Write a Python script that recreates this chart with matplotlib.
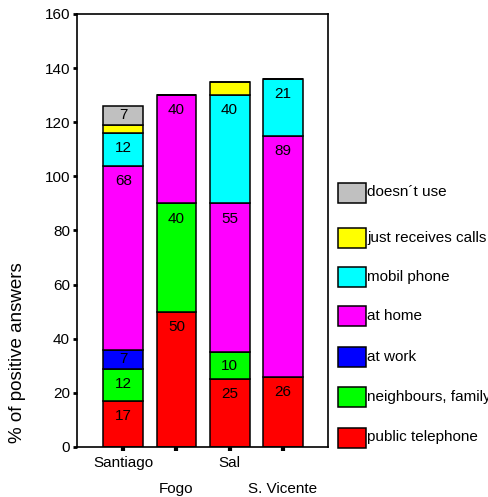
import matplotlib
matplotlib.use("Agg")
import matplotlib.pyplot as plt
from matplotlib.patches import Rectangle
import numpy as np

plt.rcParams['font.family'] = ['Liberation Sans', 'DejaVu Sans']

islands = ["Santiago", "Fogo", "Sal", "S. Vicente"]
categories = ["public telephone", "neighbours, family", "at work", "at home",
              "mobil phone", "just receives calls", "doesn\u00b4t use"]
colors = ["#ff0000", "#00ff00", "#0000ff", "#ff00ff", "#00ffff", "#ffff00", "#c0c0c0"]
values = {
    "public telephone":    [17, 50, 25, 26],
    "neighbours, family":  [12, 40, 10, 0],
    "at work":             [7, 0, 0, 0],
    "at home":             [68, 40, 55, 89],
    "mobil phone":         [12, 0, 40, 21],
    "just receives calls": [3, 0, 5, 0],
    "doesn\u00b4t use":    [7, 0, 0, 0],
}
labelled = {"just receives calls": False}

W, H = 488, 497
fig = plt.figure(figsize=(W/100, H/100), dpi=100)
ax = fig.add_axes([77/W, 1-447/H, (328-77)/W, (447-14)/H])

x = np.arange(len(islands))
bottom = np.zeros(len(islands))
for cat, col in zip(categories, colors):
    v = np.array(values[cat], dtype=float)
    ax.bar(x, v, bottom=bottom, width=0.75, color=col, edgecolor='black', linewidth=1.1)
    if labelled.get(cat, True):
        for xi, vi, bi in zip(x, v, bottom):
            if vi > 0:
                ax.text(xi, bi + vi - min(vi / 2, 5.6), f"{vi:g}", ha='center', va='center',
                        fontsize=11)
    bottom += v

ax.set_xlim(-0.87, 3.85)
ax.set_ylim(0, 160)
ax.set_yticks(np.arange(0, 161, 20))
ax.tick_params(axis='y', labelsize=11, length=3, width=2, direction='out', pad=2)
ax.set_xticks(x)
ax.set_xticklabels([])
ax.tick_params(axis='x', length=3, width=3, direction='out')
for xi, name in zip(x, islands):
    off = 16 if xi % 2 == 0 else 42
    ax.annotate(name, xy=(xi, 0), xycoords='data', xytext=(0, -off), textcoords='offset pixels',
                ha='center', va='center', fontsize=11)
for s in ax.spines.values():
    s.set_linewidth(1.2)
fig.text(18/W, 1-353/H, "% of positive answers", rotation=90, ha='center', va='center',
         fontsize=13.5)

# legend
leg_centers = [192.5, 238, 277, 316, 357, 397, 437.5]
for cat, col, cy in zip(reversed(categories), reversed(colors), leg_centers):
    fig.patches.append(Rectangle((338/W, 1-(cy+10)/H), 28/W, 20/H, transform=fig.transFigure,
                                 facecolor=col, edgecolor='black', linewidth=1.1))
    fig.text(367/W, 1-cy/H, cat, ha='left', va='center', fontsize=11)

fig.savefig("out.png", dpi=100)
